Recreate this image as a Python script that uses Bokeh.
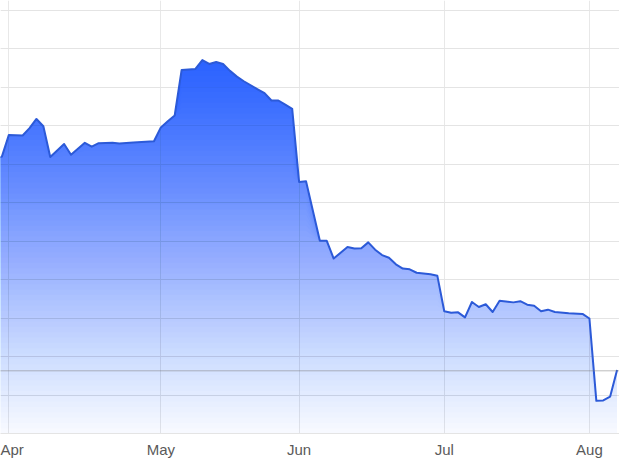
import numpy as np
from bokeh.plotting import figure
from bokeh.models import FixedTicker, Span, Range1d
from bokeh.embed import file_html
from bokeh.resources import INLINE

# trading-day index of each observation (0 = first trading day of April)
day_index = [-2, -1, 0, 2, 3, 4, 5, 6, 8, 9, 11, 12, 13, 15, 16, 18, 21,
             22, 23, 24, 25, 27, 28, 29, 30, 31, 32, 33, 34, 36, 37, 38, 39, 40, 41,
             42, 43, 45, 46, 47, 49, 50, 51, 52, 53, 54, 55, 56, 57, 58, 59, 61, 62,
             63, 64, 65, 66, 67, 68, 69, 70, 71, 73, 74, 75, 76, 77, 78, 79, 81, 83, 84,
             85, 86, 87, 88]
price = [27.16, 27.20, 27.76, 27.75, 27.94, 28.18, 27.99, 27.19, 27.53, 27.25, 27.56, 27.46, 27.55, 27.56, 27.54, 27.57, 27.60,
         27.96, 28.12, 28.27, 29.45, 29.48, 29.71, 29.61, 29.66, 29.61, 29.43, 29.28, 29.16, 28.95, 28.85, 28.66, 28.66, 28.55, 28.44,
         26.54, 26.56, 25.01, 25.01, 24.55, 24.85, 24.81, 24.82, 24.97, 24.78, 24.64, 24.57, 24.40, 24.29, 24.27, 24.18, 24.14, 24.10,
         23.18, 23.14, 23.15, 23.02, 23.42, 23.29, 23.36, 23.16, 23.45, 23.41, 23.44, 23.35, 23.32, 23.18, 23.22, 23.16, 23.13, 23.11, 22.99,
         20.85, 20.86, 20.96, 21.65]
reference_level = 21.63

month_ticks = [0, 22, 42, 63, 84]
month_labels = ["Apr", "May", "Jun", "Jul", "Aug"]
value_grid = [21, 22, 23, 24, 25, 26, 27, 28, 29, 30, 31]

base = 20.0
x = np.array(day_index, dtype=float)
v = np.array(price, dtype=float)

p = figure(width=619, height=460, output_backend="svg", toolbar_location=None,
           x_range=Range1d(-1.2, 88.35), y_range=Range1d(base, 31.26),
           y_axis_location=None, min_border_left=0, min_border_right=0,
           min_border_top=0, min_border_bottom=26)
p.outline_line_color = None
p.background_fill_color = "white"
p.border_fill_color = "white"

from bokeh.models import Grid
p.xaxis.ticker = FixedTicker(ticks=month_ticks)
p.xaxis.major_label_overrides = {t: l for t, l in zip(month_ticks, month_labels)}
p.xaxis.axis_line_color = "#e4e4e4"
p.xaxis.major_tick_line_color = None
p.xaxis.minor_tick_line_color = None
p.xaxis.major_tick_out = 0
p.xaxis.major_tick_in = 0
p.xaxis.major_label_standoff = 7
p.xaxis.major_label_text_font = "Liberation Sans"
p.xaxis.major_label_text_font_size = "15px"
p.xaxis.major_label_text_color = "#5a5a5a"
p.xgrid.ticker = FixedTicker(ticks=month_ticks)
p.xgrid.grid_line_color = "#e8e8e8"
p.add_layout(Grid(dimension=1, ticker=FixedTicker(ticks=value_grid),
                  grid_line_color="#e4e4e4"))

# alpha gradient fill: stacked layers from each level up to the data line
vmax = v.max()
N = 70
levels = np.linspace(base, vmax, N + 1)[:-1]
step = levels[1] - levels[0]
def target(val):
    f = np.clip((val - base) / (vmax - base), 0, 1)
    return 0.03 + 0.95 * f
prev = 0.0
for L in levels:
    A = target(L + step / 2)
    a = 1 - (1 - A) / (1 - prev)
    prev = A
    p.varea(x=x, y1=np.minimum(v, L), y2=v, fill_color="#2962ff", fill_alpha=float(a))

p.add_layout(Span(location=reference_level, dimension="width", line_color="#777777",
                  line_width=1, line_dash="1 1"))
p.line(x, v, line_color="#2c5ad8", line_width=2, line_join="round")

open("out.html", "w").write(file_html(p, INLINE))
